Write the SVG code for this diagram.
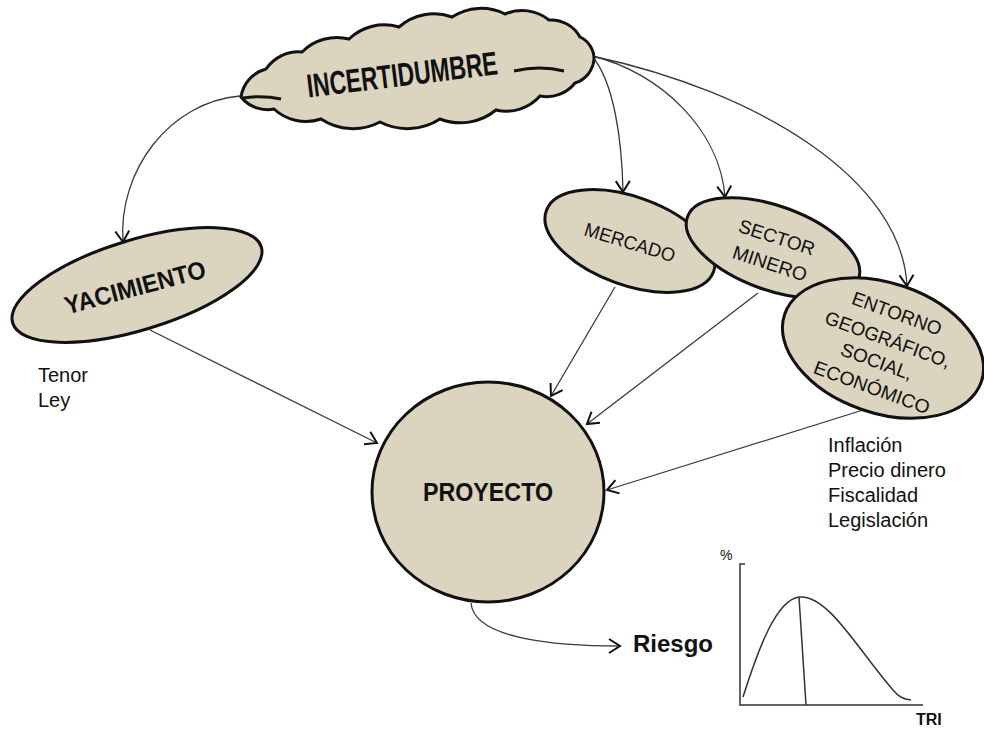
<svg xmlns="http://www.w3.org/2000/svg" width="984" height="730" viewBox="0 0 984 730">
  <style>
    .node { fill: #dbd4bf; stroke: #111; stroke-width: 3; }
    .lbl { font-family: "Liberation Sans", Arial, sans-serif; fill: #111; text-anchor: middle; }
    .b { font-weight: bold; }
    .note { font-family: "Liberation Sans", Arial, sans-serif; fill: #111; font-size: 20px; }
    .edge { fill: none; stroke: #3a3a3a; stroke-width: 1.3; marker-end: url(#arrow); }
    .chart { fill: none; stroke: #333; stroke-width: 1.5; }
  </style>
  <defs>
    <marker id="arrow" markerUnits="userSpaceOnUse" markerWidth="20" markerHeight="20" viewBox="-12 -10 14 20" refX="0" refY="0" orient="auto">
      <path d="M-11,-7 L0,0 L-11,7" fill="none" stroke="#111" stroke-width="2"/>
    </marker>
  </defs>

  <rect width="984" height="730" fill="#fff"/>

  <!-- connectors -->
  <g id="connectors">
    <path class="edge" d="M240,96 C170,102 118,170 123,242"/>
    <path class="edge" d="M592,56 C614,82 622,140 623,192"/>
    <path class="edge" d="M592,56 C660,72 720,130 725,197"/>
    <path class="edge" d="M592,56 C760,92 902,180 907,286"/>
    <path class="edge" d="M150,330 L377,443"/>
    <path class="edge" d="M615,287 L551,396"/>
    <path class="edge" d="M758,293 L587,424"/>
    <path class="edge" d="M863,410 L607,490"/>
    <path class="edge" d="M471,603 C474,640 560,646 620,646"/>
  </g>

  <!-- cloud -->
  <g id="incertidumbre">
    <path class="node" d="M241,97 A34,34 0 0 1 266,69 A39,39 0 0 1 302,52 A49,49 0 0 1 349,39 A51,51 0 0 1 399,27 A53,53 0 0 1 452,17 A53,53 0 0 1 505,14 A43,43 0 0 1 549,20 A33,33 0 0 1 580,37 A24,24 0 0 1 594,59 A27,27 0 0 1 575,83 A36,36 0 0 1 540,96 A45,45 0 0 1 496,110 A56,56 0 0 1 440,119 A60,60 0 0 1 380,122 A58,58 0 0 1 321,119 A47,47 0 0 1 274,109 A34,34 0 0 1 241,97 Z"/>
    <path d="M564,71 Q540,65 514,71" fill="none" stroke="#111" stroke-width="3"/>
    <path d="M243,98 Q262,95 281,99" fill="none" stroke="#111" stroke-width="3"/>
    <text class="lbl b" font-size="33" textLength="192" lengthAdjust="spacingAndGlyphs" transform="translate(402,74) rotate(-7)" y="12">INCERTIDUMBRE</text>
  </g>

  <g id="yacimiento">
    <ellipse class="node" cx="137" cy="285" rx="130" ry="45" transform="rotate(-17 137 285)"/>
    <text class="lbl b" font-size="25" textLength="145" lengthAdjust="spacingAndGlyphs" transform="translate(135,287) rotate(-15)" y="9">YACIMIENTO</text>
  </g>

  <g id="mercado">
    <ellipse class="node" cx="630" cy="241" rx="89" ry="44" transform="rotate(20 630 241)"/>
    <text class="lbl" font-size="19" textLength="94" lengthAdjust="spacingAndGlyphs" transform="translate(630,242) rotate(17)" y="7">MERCADO</text>
  </g>

  <g id="sector-minero">
    <ellipse class="node" cx="773" cy="248" rx="91" ry="42" transform="rotate(20 773 248)"/>
    <text class="lbl" font-size="19" textLength="79" lengthAdjust="spacingAndGlyphs" transform="translate(777,237) rotate(18)" y="7">SECTOR</text>
    <text class="lbl" font-size="19" textLength="77" lengthAdjust="spacingAndGlyphs" transform="translate(770,263) rotate(18)" y="7">MINERO</text>
  </g>

  <g id="entorno">
    <ellipse class="node" cx="883" cy="348" rx="104" ry="65" transform="rotate(19 883 348)"/>
    <text class="lbl" font-size="19" textLength="94" lengthAdjust="spacingAndGlyphs" transform="translate(897,313) rotate(20)" y="7">ENTORNO</text>
    <text class="lbl" font-size="19" textLength="132" lengthAdjust="spacingAndGlyphs" transform="translate(888,339) rotate(20)" y="7">GEOGRÁFICO,</text>
    <text class="lbl" font-size="19" textLength="75" lengthAdjust="spacingAndGlyphs" transform="translate(877,361) rotate(20)" y="7">SOCIAL,</text>
    <text class="lbl" font-size="19" textLength="122" lengthAdjust="spacingAndGlyphs" transform="translate(872,387) rotate(20)" y="7">ECONÓMICO</text>
  </g>

  <g id="proyecto">
    <ellipse class="node" cx="488" cy="492" rx="116" ry="110"/>
    <text class="lbl b" font-size="25" textLength="130" lengthAdjust="spacingAndGlyphs" x="488" y="501">PROYECTO</text>
  </g>

  <!-- side notes -->
  <g id="yacimiento-notes">
    <text class="note" x="38" y="382">Tenor</text>
    <text class="note" x="38" y="407">Ley</text>
  </g>
  <g id="entorno-notes">
    <text class="note" x="828" y="452">Inflación</text>
    <text class="note" x="828" y="477">Precio dinero</text>
    <text class="note" x="828" y="502">Fiscalidad</text>
    <text class="note" x="828" y="527">Legislación</text>
  </g>

  <g id="riesgo">
    <text class="note b" x="633" y="652" style="font-size:24px">Riesgo</text>
  </g>

  <!-- TRI distribution chart -->
  <g id="chart">
    <path class="chart" d="M745,564 L740,564 L740,705 L923,705"/>
    <path class="chart" d="M743,697 C758,650 776,600 799,597 C828,594 858,650 893,690 C899,697 903,699 911,700"/>
    <path class="chart" d="M799,597 L806,705"/>
    <text class="note" x="720" y="560" style="font-size:14px">%</text>
    <text class="note b" x="916" y="725" style="font-size:16px">TRI</text>
  </g>
</svg>
